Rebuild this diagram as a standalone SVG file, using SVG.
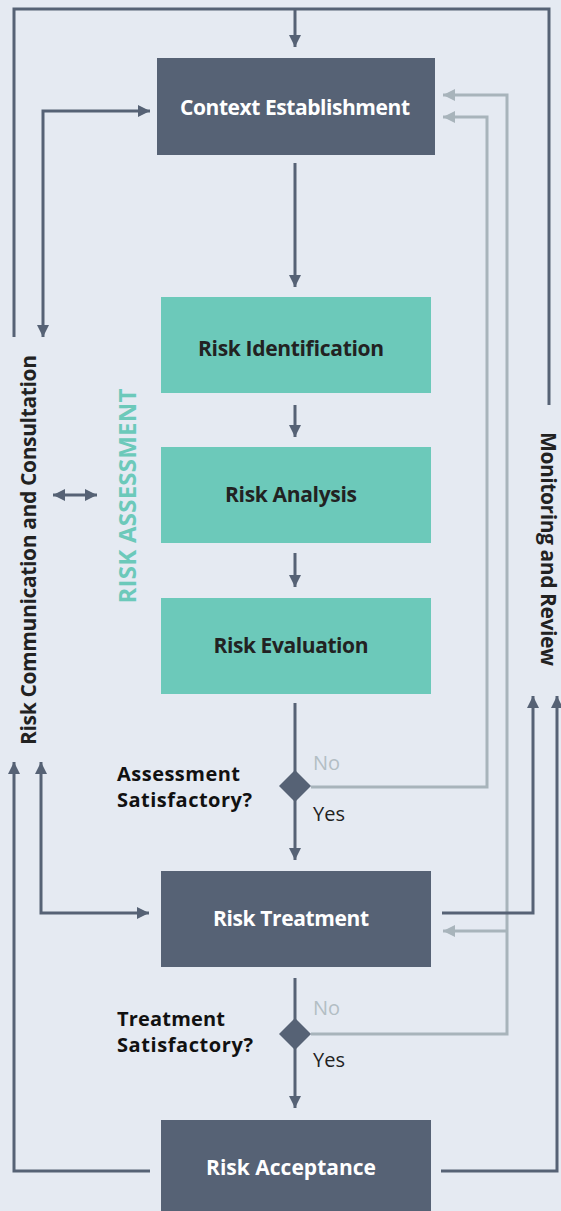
<svg xmlns="http://www.w3.org/2000/svg" width="561" height="1211" viewBox="0 0 561 1211">
<style>
.bg{fill:#E5EAF2}
.dk{fill:#566275}
.tl{fill:#6CC9BA}
.ln{fill:none;stroke:#566275;stroke-width:3}
.lg{fill:none;stroke:#A8B4BB;stroke-width:3}
text{font-family:"Open Sans","Liberation Sans",sans-serif}
.wt{fill:#FFFFFF;font-size:21px;font-weight:700;text-anchor:middle}
.bt{fill:#222222;font-size:21px;font-weight:700;text-anchor:middle}
.q{fill:#111111;font-size:20px;font-weight:700}
.no{fill:#B3BEC4;font-size:20px}
.yes{fill:#222222;font-size:20px}
</style>
<defs>
<marker id="ad" viewBox="0 0 10 10" refX="10" refY="5" markerWidth="4" markerHeight="4" markerUnits="strokeWidth" orient="auto-start-reverse"><path d="M0,0 L10,5 L0,10 z" fill="#566275"/></marker>
<marker id="ag" viewBox="0 0 10 10" refX="10" refY="5" markerWidth="4" markerHeight="4" markerUnits="strokeWidth" orient="auto-start-reverse"><path d="M0,0 L10,5 L0,10 z" fill="#A8B4BB"/></marker>
</defs>
<rect class="bg" x="0" y="0" width="561" height="1211"/>
<g id="connectors">
<polyline class="ln" points="14,337 14,9 549,9 549,405"/>
<line class="ln" x1="295" y1="9" x2="295" y2="47" marker-end="url(#ad)"/>
<polyline class="ln" points="43,337 43,111 150,111" marker-start="url(#ad)" marker-end="url(#ad)"/>
<line class="ln" x1="295" y1="163" x2="295" y2="287" marker-end="url(#ad)"/>
<line class="ln" x1="295" y1="405" x2="295" y2="437" marker-end="url(#ad)"/>
<line class="ln" x1="295" y1="553" x2="295" y2="587" marker-end="url(#ad)"/>
<line class="ln" x1="295" y1="703" x2="295" y2="860" marker-end="url(#ad)"/>
<line class="ln" x1="53" y1="495" x2="97" y2="495" marker-start="url(#ad)" marker-end="url(#ad)"/>
<polyline class="lg" points="311,787 487,787 487,117 443,117" marker-end="url(#ag)"/>
<polyline class="lg" points="311,1034 507,1034 507,95 443,95" marker-end="url(#ag)"/>
<line class="lg" x1="507" y1="931" x2="443" y2="931" marker-end="url(#ag)"/>
<polyline class="ln" points="442,913 533,913 533,696" marker-end="url(#ad)"/>
<polyline class="ln" points="441,1171 557,1171 557,696" marker-end="url(#ad)"/>
<polyline class="ln" points="150,1171 14,1171 14,762" marker-end="url(#ad)"/>
<polyline class="ln" points="41,762 41,913 149,913" marker-start="url(#ad)" marker-end="url(#ad)"/>
<line class="ln" x1="295" y1="978" x2="295" y2="1108" marker-end="url(#ad)"/>
</g>
<g id="context"><rect class="dk" x="157" y="58" width="278" height="97"/><text class="wt" x="295" y="115" textLength="230" lengthAdjust="spacing">Context Establishment</text></g>
<g id="identification"><rect class="tl" x="161" y="297" width="270" height="96"/><text class="bt" x="291" y="356" textLength="186" lengthAdjust="spacing">Risk Identification</text></g>
<g id="analysis"><rect class="tl" x="161" y="447" width="270" height="96"/><text class="bt" x="291" y="502" textLength="132" lengthAdjust="spacing">Risk Analysis</text></g>
<g id="evaluation"><rect class="tl" x="161" y="598" width="270" height="96"/><text class="bt" x="291" y="653" textLength="155" lengthAdjust="spacing">Risk Evaluation</text></g>
<g id="decision1"><path class="dk" d="M295,770 L311,786 L295,802 L279,786 z"/><text class="q" x="117" y="781" textLength="123" lengthAdjust="spacing">Assessment</text><text class="q" x="117" y="807" textLength="135" lengthAdjust="spacing">Satisfactory?</text><text class="no" x="313" y="770">No</text><text class="yes" x="313" y="821">Yes</text></g>
<g id="treatment"><rect class="dk" x="161" y="871" width="270" height="96"/><text class="wt" x="291" y="926" textLength="156" lengthAdjust="spacing">Risk Treatment</text></g>
<g id="decision2"><path class="dk" d="M295,1018 L311,1034 L295,1050 L279,1034 z"/><text class="q" x="117" y="1026" textLength="108" lengthAdjust="spacing">Treatment</text><text class="q" x="117" y="1052" textLength="136" lengthAdjust="spacing">Satisfactory?</text><text class="no" x="313" y="1015">No</text><text class="yes" x="313" y="1067">Yes</text></g>
<g id="acceptance"><rect class="dk" x="161" y="1120" width="270" height="91"/><text class="wt" x="291" y="1175" textLength="170" lengthAdjust="spacing">Risk Acceptance</text></g>
<g id="communication"><text class="bt" transform="translate(36,550) rotate(-90)" textLength="390" lengthAdjust="spacing">Risk Communication and Consultation</text></g>
<g id="assessment-label"><text transform="translate(136,496) rotate(-90)" style="fill:#6CC9BA;font-size:24px;font-weight:700;text-anchor:middle" textLength="215" lengthAdjust="spacing">RISK ASSESSMENT</text></g>
<g id="monitoring"><text class="bt" transform="translate(541,549) rotate(90)" textLength="234" lengthAdjust="spacing">Monitoring and Review</text></g>
</svg>
